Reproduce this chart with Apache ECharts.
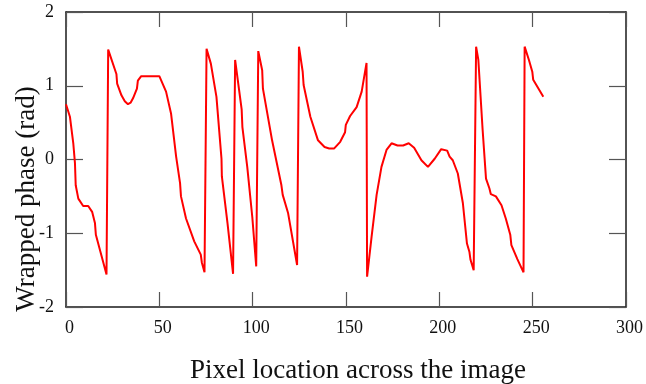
<!DOCTYPE html>
<html>
<head>
<meta charset="utf-8">
<style>
  html, body { margin: 0; padding: 0; background: #ffffff; }
  #chart { width: 646px; height: 384px; }
</style>
<script src="https://cdn.jsdelivr.net/npm/echarts@6/dist/echarts.min.js"></script>
</head>
<body>
<div id="chart"></div>
<script>
// Pixel positions along the scan line
const pixelX = [
  0, 2.1, 3.9, 4.8, 5.2, 6.6, 9.2, 11.9, 14, 15.5, 16, 21.7,
  22.6, 27, 27.4, 29.7, 31.5, 33.2, 34.6, 35.9, 38, 38.5, 40.3, 50, 53.6, 56.3, 59, 61.1, 61.6, 64.3, 68.7, 72.2, 72.8, 74.2,
  75.3, 77.6, 80.6, 83.3, 83.5, 86.5, 89.5,
  90.6, 94.1, 94.5, 97.1, 99.8, 101.9,
  103, 105.1, 105.5, 110.4, 115.4, 116.1, 119, 123.8,
  124.8, 126.8, 127.3, 130.9, 135, 138.5, 141, 143.7, 146.9, 149.5, 149.9, 152.2, 155.7, 158.4, 161,
  161.3, 163.7, 166.4, 169, 171.7, 174.4, 177.6, 180.6, 183.6, 186.5, 190.4, 193.9, 197.5, 201, 204.2, 205.5, 207.2, 209.9, 212.6, 214.8, 216.1, 216.7, 218.4,
  219.7, 220.9, 223.2, 225, 226.8, 227.6, 230.3, 233.3, 235.6, 238, 238.6, 241.8, 245.1,
  245.7, 248, 249.8, 250.3, 255.7
];

// Wrapped phase at each position (rad)
const wrappedPhase = [
  0.75, 0.58, 0.22, -0.05, -0.35, -0.53, -0.63, -0.63, -0.71, -0.86, -1.02, -1.56,
  1.49, 1.16, 1.03, 0.87, 0.79, 0.75, 0.77, 0.83, 0.96, 1.07, 1.13, 1.13, 0.92, 0.62, 0.04, -0.32, -0.5, -0.8, -1.11, -1.29, -1.40, -1.53,
  1.50, 1.30, 0.85, 0.01, -0.23, -0.86, -1.55,
  1.35, 0.68, 0.44, -0.1, -0.78, -1.45,
  1.47, 1.21, 0.96, 0.26, -0.35, -0.48, -0.73, -1.43,
  1.53, 1.19, 1.01, 0.58, 0.26, 0.17, 0.15, 0.15, 0.24, 0.37, 0.47, 0.59, 0.71, 0.92, 1.31,
  -1.59, -1.05, -0.48, -0.1, 0.13, 0.22, 0.19, 0.19, 0.22, 0.16, -0.01, -0.1, 0.01, 0.14, 0.12, 0.04, -0.01, -0.19, -0.59, -1.14, -1.25, -1.36, -1.5,
  1.53, 1.35, 0.40, -0.26, -0.39, -0.47, -0.5, -0.62, -0.8, -1.02, -1.16, -1.35, -1.53,
  1.53, 1.35, 1.19, 1.08, 0.85
];

const xTicks = [0, 50, 100, 150, 200, 250, 300];
const yTicks = [-2, -1, 0, 1, 2];

const xTitle = 'Pixel location across the image';
const yTitle = 'Wrapped phase (rad)';

const serif = '"Liberation Serif", "DejaVu Serif", serif';
const axisColor = '#1a1a1a';
const tickColor = '#555555';

const points = pixelX.map((x, i) => [x, wrappedPhase[i]]);

const chart = echarts.init(document.getElementById('chart'), null, { renderer: 'canvas' });

function xAxisDef(show, position) {
  return {
    type: 'value',
    position: position,
    min: xTicks[0],
    max: xTicks[xTicks.length - 1],
    interval: 50,
    axisLine: { show: true, onZero: false, lineStyle: { color: axisColor, width: 1.5 } },
    axisTick: { show: true, inside: true, length: 15, lineStyle: { color: tickColor, width: 1.2 } },
    axisLabel: {
      show: show, margin: 12, color: '#111', fontFamily: serif, fontSize: 18,
      padding: [0, 0, 0, 7]
    },
    splitLine: { show: false }
  };
}

function yAxisDef(show, position) {
  return {
    type: 'value',
    position: position,
    min: yTicks[0],
    max: yTicks[yTicks.length - 1],
    interval: 1,
    axisLine: { show: true, onZero: false, lineStyle: { color: axisColor, width: 1.5 } },
    axisTick: { show: true, inside: true, length: 17, lineStyle: { color: tickColor, width: 1.2 } },
    axisLabel: { show: show, margin: 12, color: '#111', fontFamily: serif, fontSize: 18 },
    splitLine: { show: false }
  };
}

chart.setOption({
  animation: false,
  backgroundColor: '#ffffff',
  grid: { left: 66, right: 17, top: 12, bottom: 77, containLabel: false },
  xAxis: [xAxisDef(true, 'bottom'), xAxisDef(false, 'top')],
  yAxis: [yAxisDef(true, 'left'), yAxisDef(false, 'right')],
  series: [{
    type: 'line',
    data: points,
    xAxisIndex: 0,
    yAxisIndex: 0,
    showSymbol: false,
    smooth: false,
    lineStyle: { color: '#ff0000', width: 2 },
    z: 3
  }],
  graphic: [
    {
      type: 'text',
      x: 358, y: 371,
      z: 10,
      style: {
        text: xTitle, fill: '#111', font: '27px ' + serif,
        textAlign: 'center', textVerticalAlign: 'middle'
      }
    },
    {
      type: 'text',
      x: 27, y: 199,
      rotation: Math.PI / 2,
      z: 10,
      style: {
        text: yTitle, fill: '#111', font: '27px ' + serif,
        textAlign: 'center', textVerticalAlign: 'middle'
      }
    }
  ]
});
</script>
</body>
</html>
